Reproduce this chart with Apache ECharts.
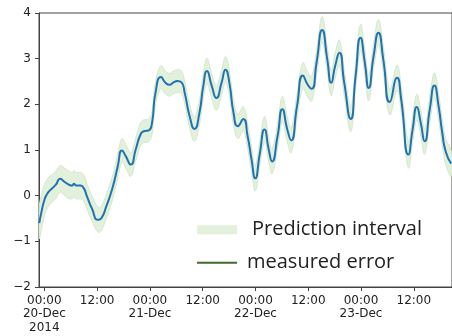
<!DOCTYPE html>
<html>
<head>
<meta charset="utf-8">
<script src="https://cdn.jsdelivr.net/npm/echarts@6/dist/echarts.min.js"></script>
<style>
html,body{margin:0;padding:0;background:#fff;}
#chart{width:452px;height:336px;}
</style>
</head>
<body>
<div id="chart"></div>
<script>
// Timestamps of the predicted curve
var times = [
 '2014-12-19 22:51','2014-12-19 23:20','2014-12-20 00:02','2014-12-20 00:47','2014-12-20 01:53',
 '2014-12-20 02:37','2014-12-20 03:36','2014-12-20 04:29','2014-12-20 05:35','2014-12-20 06:20',
 '2014-12-20 06:42','2014-12-20 07:17','2014-12-20 08:10','2014-12-20 08:55','2014-12-20 09:40',
 '2014-12-20 10:46','2014-12-20 12:15','2014-12-20 13:00','2014-12-20 14:06','2014-12-20 15:35',
 '2014-12-20 16:41','2014-12-20 17:39','2014-12-20 18:32','2014-12-20 19:39','2014-12-20 20:46',
 '2014-12-20 21:52','2014-12-20 22:36','2014-12-20 23:43','2014-12-21 00:28','2014-12-21 01:16',
 '2014-12-21 02:32','2014-12-21 03:29','2014-12-21 04:28','2014-12-21 05:21','2014-12-21 06:14',
 '2014-12-21 07:11','2014-12-21 07:55','2014-12-21 09:02','2014-12-21 10:08','2014-12-21 11:15',
 '2014-12-21 12:08','2014-12-21 12:58','2014-12-21 14:04','2014-12-21 15:07','2014-12-21 16:17',
 '2014-12-21 17:11','2014-12-21 18:04','2014-12-21 19:01','2014-12-21 20:00','2014-12-21 21:14',
 '2014-12-21 22:13','2014-12-21 23:07','2014-12-21 23:57','2014-12-22 00:57','2014-12-22 02:04',
 '2014-12-22 03:01','2014-12-22 03:46','2014-12-22 05:01','2014-12-22 06:07','2014-12-22 07:14',
 '2014-12-22 08:07','2014-12-22 09:27','2014-12-22 10:47','2014-12-22 11:53','2014-12-22 12:47',
 '2014-12-22 13:53','2014-12-22 15:10','2014-12-22 16:20','2014-12-22 17:13','2014-12-22 18:07',
 '2014-12-22 19:05','2014-12-22 20:11','2014-12-22 21:40','2014-12-22 22:46','2014-12-22 23:53',
 '2014-12-23 00:52','2014-12-23 01:45','2014-12-23 02:51','2014-12-23 03:58','2014-12-23 05:04',
 '2014-12-23 06:32','2014-12-23 08:11','2014-12-23 09:08','2014-12-23 10:46','2014-12-23 11:44',
 '2014-12-23 12:41','2014-12-23 13:35','2014-12-23 14:28','2014-12-23 15:38','2014-12-23 16:41',
 '2014-12-23 17:38','2014-12-23 18:28','2014-12-23 19:18','2014-12-23 20:30'
];
// Predicted value (blue line)
var predicted = [
 -0.60,-0.36,-0.09,0.06,0.17,
 0.24,0.37,0.31,0.24,0.22,
 0.26,0.22,0.22,0.17,-0.01,
 -0.27,-0.53,-0.49,-0.23,0.20,
 0.64,0.99,0.86,0.68,1.01,
 1.34,1.41,1.43,1.59,2.25,
 2.60,2.48,2.43,2.48,2.51,
 2.48,2.25,1.74,1.46,1.81,
 2.40,2.73,2.40,2.14,2.47,
 2.76,2.47,1.81,1.52,1.68,
 1.30,0.79,0.38,0.90,1.45,
 1.01,0.75,1.30,1.89,1.45,
 1.21,1.96,2.63,2.43,2.34,
 2.91,3.63,2.98,2.47,2.84,
 3.13,2.47,1.68,2.62,3.46,
 2.91,2.36,3.05,3.57,2.98,
 2.05,2.58,2.11,0.90,1.45,
 1.94,1.59,1.19,1.89,2.41,
 1.96,1.38,0.95,0.70
];
// Half width of the prediction interval at each timestamp
var bandHalf = [
 0.34,0.38,0.34,0.32,0.30,
 0.30,0.29,0.30,0.30,0.29,
 0.29,0.29,0.29,0.29,0.28,
 0.27,0.27,0.27,0.26,0.26,
 0.26,0.26,0.26,0.26,0.25,
 0.25,0.25,0.25,0.25,0.25,
 0.25,0.25,0.25,0.25,0.25,
 0.25,0.25,0.26,0.27,0.26,
 0.27,0.28,0.27,0.27,0.27,
 0.28,0.27,0.27,0.27,0.27,
 0.27,0.27,0.28,0.27,0.28,
 0.27,0.27,0.27,0.28,0.27,
 0.27,0.27,0.28,0.27,0.27,
 0.27,0.29,0.28,0.28,0.28,
 0.28,0.28,0.28,0.28,0.29,
 0.28,0.28,0.28,0.29,0.28,
 0.28,0.28,0.28,0.29,0.28,
 0.28,0.28,0.28,0.28,0.28,
 0.28,0.28,0.28,0.28
];
var yTicks = [-2,-1,0,1,2,3,4];
var xTicks = [
 '2014-12-20 00:00','2014-12-20 12:00','2014-12-21 00:00','2014-12-21 12:00',
 '2014-12-22 00:00','2014-12-22 12:00','2014-12-23 00:00','2014-12-23 12:00'
];
var xTickLabels = [
 '00:00\n20-Dec\n2014','12:00','00:00\n21-Dec','12:00',
 '00:00\n22-Dec','12:00','00:00\n23-Dec','12:00'
];
var xMin = '2014-12-19 22:47';
var xMax = '2014-12-23 20:41';

// x positions are hours since the first tick (20-Dec 00:00)
var t0 = new Date(xTicks[0].replace(' ', 'T')).getTime();
function hrs(s) { return (new Date(s.replace(' ', 'T')).getTime() - t0) / 3600000; }
var xTickValues = xTicks.map(hrs);

var lineData = [];
for (var i = 0; i < times.length; i++) {
  lineData.push([hrs(times[i]), predicted[i], predicted[i] - bandHalf[i], predicted[i] + bandHalf[i]]);
}

var bandFill = '#e3f0dc';
var bandEdge = '#d3e8cb';

function renderBand(params, api) {
  if (params.dataIndex !== 0) return null;
  var upper = [], lower = [];
  for (var k = 0; k < lineData.length; k++) {
    upper.push(api.coord([lineData[k][0], lineData[k][3]]));
    lower.push(api.coord([lineData[k][0], lineData[k][2]]));
  }
  var pts = upper.concat(lower.reverse());
  return {
    type: 'polygon',
    shape: {points: pts, smooth: 0.4},
    style: {fill: bandFill, stroke: bandEdge, lineWidth: 1}
  };
}

var chart = echarts.init(document.getElementById('chart'), null, {renderer: 'canvas'});
chart.setOption({
  animation: false,
  grid: {left: 39, right: -10, top: 13, bottom: 49, show: true, borderColor: '#444', borderWidth: 1, backgroundColor: 'transparent'},
  xAxis: {
    type: 'value',
    min: hrs(xMin), max: hrs(xMax),
    axisLine: {show: true, onZero: false, lineStyle: {color: '#444', width: 1}},
    axisTick: {show: true, length: 4, lineStyle: {color: '#444'}, customValues: xTickValues},
    splitLine: {show: false},
    axisLabel: {
      margin: 7,
      color: '#222',
      fontFamily: 'DejaVu Sans',
      fontSize: 12,
      lineHeight: 13.5,
      hideOverlap: false,
      showMinLabel: true, showMaxLabel: true,
      customValues: xTickValues,
      formatter: function (v) {
        for (var k = 0; k < xTickValues.length; k++) {
          if (Math.abs(xTickValues[k] - v) < 0.01) return xTickLabels[k];
        }
        return '';
      }
    }
  },
  yAxis: {
    type: 'value',
    min: yTicks[0], max: yTicks[yTicks.length - 1], interval: 1,
    axisLine: {show: true, onZero: false, lineStyle: {color: '#444', width: 1}},
    axisTick: {show: true, length: 4, lineStyle: {color: '#444'}},
    splitLine: {show: false},
    axisLabel: {
      margin: 8, color: '#222', fontFamily: 'DejaVu Sans', fontSize: 12,
      formatter: function (v) { return v < 0 ? '\u2212' + Math.abs(v) : '' + v; }
    }
  },
  legend: [
    {
      data: [{name: 'Prediction interval', icon: 'rect', itemStyle: {color: bandFill, borderWidth: 0}}],
      left: 197, top: 218.7, padding: 0,
      itemWidth: 40, itemHeight: 9,
      selectedMode: false,
      textStyle: {fontFamily: 'Open Sans', fontSize: 20, color: '#222', lineHeight: 22, padding: [0, 0, 0, 10]}
    },
    {
      data: [{name: 'measured error', icon: 'path://M0,0H40V2H0Z', itemStyle: {color: '#446b2f'}}],
      left: 197, top: 251.7, padding: 0,
      itemWidth: 40, itemHeight: 10,
      selectedMode: false,
      textStyle: {fontFamily: 'Open Sans', fontSize: 20, color: '#222', lineHeight: 22, padding: [0, 0, 0, 5]}
    }
  ],
  series: [
    {
      name: 'Prediction interval', type: 'custom', data: lineData,
      encode: {x: 0, y: 1}, clip: true, silent: true, z: 1,
      renderItem: renderBand,
      itemStyle: {color: bandFill}
    },
    {
      name: 'predicted', type: 'line', data: lineData,
      encode: {x: 0, y: 1}, z: 3,
      smooth: 0.6, symbol: 'none', silent: true,
      lineStyle: {color: '#1f73b2', width: 2}
    },
    {
      name: 'measured error', type: 'line', data: [],
      symbol: 'none',
      lineStyle: {color: '#446b2f', width: 2},
      itemStyle: {color: '#446b2f'}
    }
  ]
});
</script>
</body>
</html>
